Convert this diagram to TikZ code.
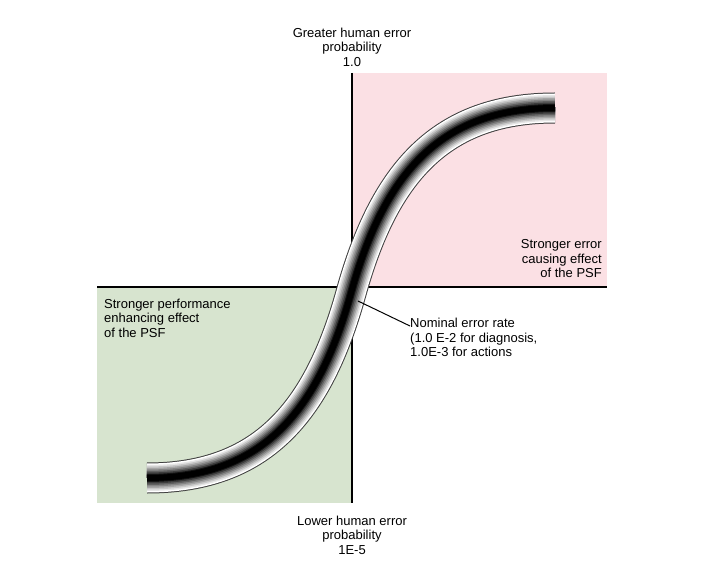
\documentclass[tikz,border=0pt]{standalone}
\usepackage{fontspec}
\setmainfont{Liberation Sans}
\begin{document}
\begin{tikzpicture}[x=1pt,y=-1pt,
  lbl/.style={font=\fontsize{13}{14.5}\selectfont, inner sep=0pt, align=center}]
\useasboundingbox (0,0) rectangle (709,561);
\fill[fill={rgb,255:red,251;green,224;blue,228}] (352,73) rectangle (607,287);
\fill[fill={rgb,255:red,215;green,228;blue,207}] (97,287) rectangle (352,503);
\draw[line width=1.2pt] (352,73) -- (352,503);
\draw[line width=1.2pt] (97,287) -- (607,287);
\coordinate (s) at (147,478);
\coordinate (m) at (351,293);
\coordinate (e) at (555,108);
\foreach \w/\c in {31/75,29/0,26/10,23/22,20/35,17/48,14/62,11/76,8/92,6/100}{
  \draw[line width=\w pt, color=black!\c!white] (s) .. controls (262,478) and (318,412) .. (m) .. controls (384,174) and (440,108) .. (e);
}
\node[lbl] (top) at (352,47) {Greater human error\\probability\\1.0};
\node[lbl] (bot) at (352,535) {Lower human error\\probability\\1E-5};
\node[lbl, align=right, anchor=east] (r) at (602,259) {Stronger error\\causing effect\\of the PSF};
\node[lbl, align=left, anchor=west] (l) at (104,318) {Stronger performance\\enhancing effect\\of the PSF};
\node[lbl, align=left, anchor=north west] (n) at (410,318) {Nominal error rate\\(1.0 E-2 for diagnosis,\\1.0E-3 for actions};
\coordinate (p) at (358,301);
\draw[line width=1pt] (n.west |- 0,326) -- (p);
\end{tikzpicture}
\end{document}
